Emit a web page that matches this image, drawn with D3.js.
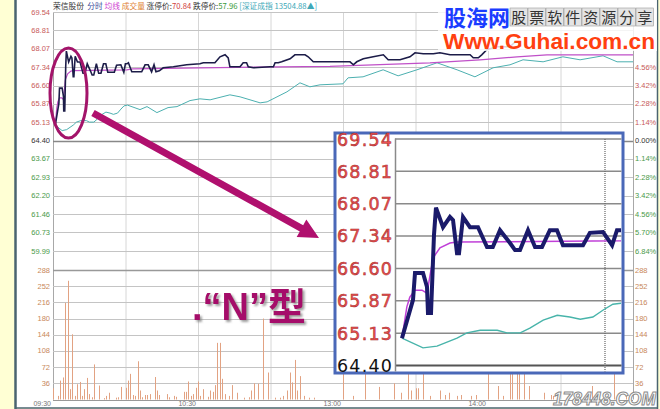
<!DOCTYPE html>
<html><head><meta charset="utf-8">
<script src="https://cdn.jsdelivr.net/npm/d3@7"></script>
<style>
body{margin:0;background:#ffffd4;}
svg{display:block;font-family:"Liberation Sans",Arial,sans-serif;}
</style>
</head><body>
<svg id="c" width="660" height="409"></svg>
<script>
// ---------------- data ----------------
const prevClose = 64.40;
const priceTicks = [69.54,68.81,68.07,67.34,66.60,65.87,65.13,64.40,63.67,62.93,62.20,61.46,60.73,59.99];
const pctTicks = ["7.98%","6.84%","5.70%","4.56%","3.42%","2.28%","1.14%","0.00%","1.14%","2.28%","3.42%","4.56%","5.70%","6.84%"];
const volTicks = [288,252,216,180,144,108,72,36];
const timeTicks = [0,30,60,90,120,150,180,210,240];
const timeLabels = [[0,"09:30"],[60,"10:30"],[120,"13:00"],[180,"14:00"]];
const insetTicks = [69.54,68.81,68.07,67.34,66.60,65.87,65.13,64.40];

// minute-price pairs (price line)
const pricePts = [[0.94,65.02],[2.43,65.89],[2.7,66.50],[3.78,66.50],[4.32,66.18],[4.45,65.59],[4.86,65.59],[5.26,67.36],[5.53,67.98],[6.48,67.54],[7.42,67.77],[7.83,67.70],[8.37,66.95],[8.64,66.95],[9.18,67.77],[10.12,67.54],[11.2,67.54],[12.42,67.09],[13.2,67.09],[14.17,67.47],[15.52,67.18],[16.2,67.02],[16.87,67.02],[17.95,67.47],[18.9,67.09],[19.84,67.09],[20.9,67.47],[21.86,67.47],[22.67,67.13],[25.37,67.13],[26.3,67.41],[28.07,67.43],[29.3,67.13],[29.96,67.47],[30.6,67.47],[31.2,67.51],[32.6,67.15],[36.7,67.15],[38.1,67.43],[39.4,67.43],[40.8,67.15],[41.8,67.43],[42.6,67.15],[44,67.19],[45.6,67.31],[49.8,67.35],[55.3,67.43],[60.8,67.47],[62.2,67.51],[67,67.51],[69.1,67.75],[71.2,67.83],[72.5,67.71],[73.2,67.35],[77.4,67.35],[78.7,67.51],[80.1,67.51],[80.8,67.35],[82.9,67.31],[89.8,67.35],[91.2,67.35],[91.9,67.51],[93.2,67.51],[94.6,67.55],[98.1,67.67],[100.1,67.83],[104.3,67.83],[105.6,67.75],[107.7,67.55],[114.6,67.55],[122.9,67.55],[124.3,67.43],[125.7,67.55],[128.4,67.67],[132.5,67.75],[136.7,67.83],[138.7,67.63],[143.6,67.63],[147.7,67.75],[149.8,67.91],[153.2,67.87],[157.4,67.87],[160.1,67.91],[164.3,67.83],[172.6,67.83],[173.9,67.71],[176,67.71],[177.4,67.83],[179.5,68.03],[183.6,68.15],[189.1,68.15],[191.2,68.34]];
// average price line
const avgPts = [[0.94,65.02],[1.6,65.73],[2.0,65.95],[2.7,66.11],[3.64,66.11],[4.32,66.04],[5.13,66.84],[6.07,67.07],[7.42,67.18],[8.37,67.20],[30.5,67.23],[33,67.27],[60.8,67.31],[114.6,67.37],[156,67.51],[176.7,67.63],[192,67.75],[204.4,67.83],[240,67.83]];
// Shenzhen index line (drawn on the price axis)
const indexPts = [[0.94,65.02],[3.78,64.80],[5.67,64.84],[8.37,65.02],[9.7,65.14],[11.5,65.20],[13.8,65.20],[15.1,65.14],[16.9,65.14],[18.2,65.25],[20,65.43],[21.9,65.54],[23.6,65.50],[25,65.45],[26.7,65.50],[28.1,65.66],[29.4,65.79],[30.8,65.82],[36,65.64],[38.9,65.76],[43,65.52],[47.6,65.72],[51.3,65.76],[56.7,66.0],[60.8,66.07],[65,66.03],[73.2,66.23],[77.4,66.15],[85.7,65.91],[88.6,65.95],[92.7,66.15],[96.8,66.35],[102.2,66.71],[106.3,66.55],[110.5,66.63],[120,66.67],[122.1,66.91],[128.3,66.95],[136.6,67.23],[142.8,66.99],[150.6,67.23],[158.9,67.51],[167.2,67.23],[174.6,66.95],[182.1,67.31],[189.1,67.43],[194.5,67.63],[202.8,67.55],[211,67.75],[218.1,67.63],[227.6,67.79],[233.4,67.55],[240,67.55]];
// minute-volume pairs
const volPts = [[0,25],[2,8],[3,42],[4,49],[5,215],[6,264],[7,23],[8,145],[9,8],[10,34],[11,39],[12,8],[13,23],[14,48],[15,12],[16,5],[17,78],[19,31],[21,3],[22,8],[23,15],[26,4],[27,5],[28,28],[30,26],[31,42],[32,57],[33,10],[34,8],[35,85],[36,20],[37,5],[38,10],[39,10],[40,12],[42,50],[43,20],[44,10],[47,12],[48,5],[50,8],[51,6],[54,17],[55,17],[56,40],[57,8],[58,12],[59,26],[60,40],[61,8],[62,23],[64,6],[65,20],[66,17],[67,32],[68,126],[69,126],[70,46],[71,12],[73,8],[74,32],[76,15],[79,4],[81,5],[82,20],[83,36],[85,35],[87,180],[89,60],[92,4],[94,4],[95,8],[97,20],[98,60],[99,38],[100,88],[101,20],[102,52],[104,8],[106,4],[108,4],[120,100],[124,8],[129,90],[135,28],[141,36],[144,15],[147,90],[148,20],[150,25],[151,25],[153,80],[156,8],[160,20],[162,10],[164,15],[167,8],[169,10],[173,8],[175,10],[180,90],[184,30],[186,8],[189,100],[190,80],[192,100],[193,90],[195,60],[197,30],[203,15],[206,10],[207,8],[223,30],[232,100],[237,15]];

// ---------------- drawing ----------------
const svg = d3.select("#c");
const defs = svg.append("defs");
const f = defs.append("filter").attr("id","sh").attr("x","-10%").attr("y","-10%").attr("width","130%").attr("height","130%");
f.append("feDropShadow").attr("dx",2).attr("dy",2).attr("stdDeviation",0.8).attr("flood-color","#888").attr("flood-opacity",0.8);

const x = d3.scaleLinear().domain([0,240]).range([53,633]);
const y = d3.scaleLinear().domain([59.99,69.54]).range([251,12]);
const yv = d3.scaleLinear().domain([0,288]).range([399.5,270]);

// panel
svg.append("rect").attr("x",16).attr("y",0).attr("width",641).attr("height",408).attr("fill","#fff");
svg.append("line").attr("x1",15.5).attr("x2",15.5).attr("y1",0).attr("y2",409).attr("stroke","#4a6470").attr("stroke-width",2.5);
svg.append("line").attr("x1",657.5).attr("x2",657.5).attr("y1",0).attr("y2",409).attr("stroke","#4a6470").attr("stroke-width",1.5);
svg.append("line").attr("x1",16).attr("x2",658).attr("y1",408).attr("y2",408).attr("stroke","#4a6470").attr("stroke-width",1.5);

// vertical grid
svg.append("g").selectAll("line").data(timeTicks).join("line")
  .attr("x1",d=>x(d)+0.5).attr("x2",d=>x(d)+0.5).attr("y1",12).attr("y2",399.5)
  .attr("stroke",(d,i)=> (i===0||i===8)?"#a8a8a8":"#d6d6d6").attr("stroke-width",1);
// horizontal grid
svg.append("g").selectAll("line").data(priceTicks).join("line")
  .attr("x1",53).attr("x2",633).attr("y1",d=>Math.round(y(d))+0.5).attr("y2",d=>Math.round(y(d))+0.5)
  .attr("stroke",d=>d===prevClose?"#888":"#c4c4c4").attr("stroke-width",d=>d===prevClose?1.6:1);
svg.append("g").selectAll("line").data(volTicks.concat([0])).join("line")
  .attr("x1",53).attr("x2",633).attr("y1",d=>Math.round(yv(d))+0.5).attr("y2",d=>Math.round(yv(d))+0.5)
  .attr("stroke",d=>(d===288||d===0)?"#999":"#c4c4c4").attr("stroke-width",d=>(d===288)?1.4:1);

// left labels
svg.append("g").selectAll("text").data(priceTicks).join("text")
  .attr("x",50).attr("y",d=>y(d)+2.5).attr("text-anchor","end").attr("font-size",7.5)
  .attr("fill",d=>d>prevClose?"#c85a5a":(d===prevClose?"#333":"#4a9a4a")).text(d=>d.toFixed(2));
svg.append("g").selectAll("text").data(volTicks).join("text")
  .attr("x",50).attr("y",d=>yv(d)+2.5).attr("text-anchor","end").attr("font-size",7.5)
  .attr("fill","#c8885a").text(d=>d);
// right labels (the top three sit under the watermark and are not visible)
svg.append("g").selectAll("text").data(pctTicks.map((t,i)=>[t,i]).filter(d=>d[1]>=3)).join("text")
  .attr("x",635).attr("y",d=>y(priceTicks[d[1]])+2.5).attr("font-size",7.5)
  .attr("fill",d=>d[1]<7?"#c85a5a":(d[1]===7?"#333":"#4a9a4a")).text(d=>d[0]);
svg.append("g").selectAll("text").data(volTicks).join("text")
  .attr("x",635).attr("y",d=>yv(d)+2.5).attr("font-size",7.5)
  .attr("fill","#c8885a").text(d=>d);
// time labels
svg.append("g").selectAll("text").data(timeLabels).join("text")
  .attr("x",d=>x(d[0])-2).attr("y",406).attr("text-anchor","end").attr("font-size",7)
  .attr("fill","#777").text(d=>d[1]);

// volume bars
svg.append("g").selectAll("line").data(volPts).join("line")
  .attr("x1",d=>Math.round(x(d[0]))+0.5).attr("x2",d=>Math.round(x(d[0]))+0.5)
  .attr("y1",yv(0)).attr("y2",d=>yv(d[1])).attr("stroke","#e2a282").attr("stroke-width",1);

// lines
const line = (xs,ys)=>d3.line().x(d=>xs(d[0])).y(d=>ys(d[1]));
svg.append("path").attr("d",line(x,y)(indexPts)).attr("fill","none").attr("stroke","#4cb0b0").attr("stroke-width",1);
svg.append("path").attr("d",line(x,y)(avgPts)).attr("fill","none").attr("stroke","#c050c8").attr("stroke-width",1.2);
svg.append("path").attr("d",line(x,y)(pricePts)).attr("fill","none").attr("stroke","#1c1c48").attr("stroke-width",1.6);

// title
const title = svg.append("text").attr("x",53).attr("y",9).attr("font-size",8)
  .attr("font-family","'Noto Sans CJK SC','Liberation Sans',sans-serif")
  .attr("textLength",264).attr("lengthAdjust","spacingAndGlyphs");
[["荣信股份","#333"],["  分时","#3a4a9a"],[" 均线","#d040d0"],[" 成交量","#e08030"],[" 涨停价:","#333"],["70.84","#d04040"],[" 跌停价:","#333"],["57.96","#3a9a3a"],[" [深证成指 13504.88▲]","#40a8b8"]]
 .forEach(s=>title.append("tspan").attr("fill",s[1]).attr("xml:space","preserve").text(s[0]));

// watermark top-right
svg.append("rect").attr("x",438).attr("y",0).attr("width",219).attr("height",51).attr("fill","#fff").attr("opacity",0.82);
svg.append("text").attr("x",444).attr("y",26).attr("font-size",22).attr("font-weight","bold")
  .attr("font-family","'Noto Sans CJK SC',sans-serif").attr("fill","#1a3cff").text("股海网");
const wmChars = "股票软件资源分享".split("");
const wmg = svg.append("g");
wmChars.forEach((c,i)=>{
  wmg.append("rect").attr("x",510+i*18).attr("y",8).attr("width",17.5).attr("height",18).attr("fill","#e4e4e4").attr("stroke","#9a9a9a").attr("stroke-width",0.6);
  wmg.append("text").attr("x",510+i*18+8.75).attr("y",23).attr("text-anchor","middle").attr("font-size",15)
    .attr("font-family","'Noto Sans CJK SC',sans-serif").attr("fill","#333").text(c);
});
svg.append("text").attr("x",443).attr("y",49).attr("font-size",22.5).attr("font-weight","bold")
  .attr("textLength",212).attr("lengthAdjust","spacingAndGlyphs").attr("fill","#ff4010").text("Www.Guhai.com.cn");

// ellipse + arrow
svg.append("ellipse").attr("cx",68.5).attr("cy",93).attr("rx",18.5).attr("ry",45)
  .attr("fill","none").attr("stroke","#a3146a").attr("stroke-width",3);
(function(){
  const x0=93,y0=113,x1=319,y1=238;
  const L=Math.hypot(x1-x0,y1-y0), ux=(x1-x0)/L, uy=(y1-y0)/L, px=-uy, py=ux;
  const w=3.5, hl=20, hw=10;
  const bx=x1-ux*hl, by=y1-uy*hl;
  const pts=[[x0+px*w,y0+py*w],[bx+px*w,by+py*w],[bx+px*hw,by+py*hw],[x1,y1],[bx-px*hw,by-py*hw],[bx-px*w,by-py*w],[x0-px*w,y0-py*w]];
  svg.append("polygon").attr("points",pts.map(p=>p.join(",")).join(" ")).attr("fill","#b0106e");
})();

// big label
svg.append("text").attr("x",192).attr("y",320).attr("font-size",38).attr("font-weight","bold")
  .attr("font-family","'Liberation Sans','Noto Sans CJK SC',sans-serif").attr("fill","#a5106a")
  .attr("filter","url(#sh)").text(".“N”型");

// ---------------- inset ----------------
const xi = d3.scaleLinear().domain([0,30.5]).range([395,621]);
const yi = d3.scaleLinear().domain([64.40,69.54]).range([365.5,139]);
const ins = svg.append("g");
ins.append("rect").attr("x",335).attr("y",133).attr("width",288).attr("height",240).attr("fill","#fff")
  .attr("stroke","#4a68b8").attr("stroke-width",3);
defs.append("clipPath").attr("id","ic").append("rect").attr("x",395).attr("y",135).attr("width",226).attr("height",236);
ins.selectAll("line.g").data(insetTicks).join("line").attr("class","g")
  .attr("x1",395).attr("x2",621.5).attr("y1",d=>yi(d)).attr("y2",d=>yi(d))
  .attr("stroke",d=>d===prevClose?"#555":"#8a8a8a").attr("stroke-width",d=>d===prevClose?2.2:1.5);
ins.append("line").attr("x1",395.5).attr("x2",395.5).attr("y1",138.5).attr("y2",371.5).attr("stroke","#8a8a8a").attr("stroke-width",1.5);
ins.append("line").attr("x1",605).attr("x2",605).attr("y1",139).attr("y2",371.5).attr("stroke","#666").attr("stroke-width",1.2).attr("stroke-dasharray","1,1");
ins.selectAll("text").data(insetTicks).join("text")
  .attr("x",337).attr("y",d=>yi(d)+6.5).attr("font-size",17.5).attr("letter-spacing",1.2)
  .attr("font-family","'DejaVu Sans',sans-serif")
  .attr("fill",d=>d===prevClose?"#111":"#ee5050").attr("stroke",d=>d===prevClose?"none":"#a02828").attr("stroke-width",0.5)
  .text(d=>d.toFixed(2));
const ic = ins.append("g").attr("clip-path","url(#ic)");
ic.append("path").attr("d",line(xi,yi)(indexPts.filter(d=>d[0]<=36))).attr("fill","none").attr("stroke","#48b4aa").attr("stroke-width",1.4);
ic.append("path").attr("d",line(xi,yi)(avgPts.filter(d=>d[0]<=40))).attr("fill","none").attr("stroke","#c040d8").attr("stroke-width",1.5);
ic.append("path").attr("d",line(xi,yi)(pricePts.filter(d=>d[0]<=33))).attr("fill","none").attr("stroke","#1a1a6a").attr("stroke-width",4);

// bottom-right watermark
svg.append("text").attr("x",553).attr("y",405).attr("font-size",18).attr("font-weight","bold").attr("font-style","italic")
  .attr("textLength",103).attr("lengthAdjust","spacingAndGlyphs")
  .attr("fill","#fff").attr("stroke","#8a8a8a").attr("stroke-width",1).text("178448.COM");
</script>
</body></html>
